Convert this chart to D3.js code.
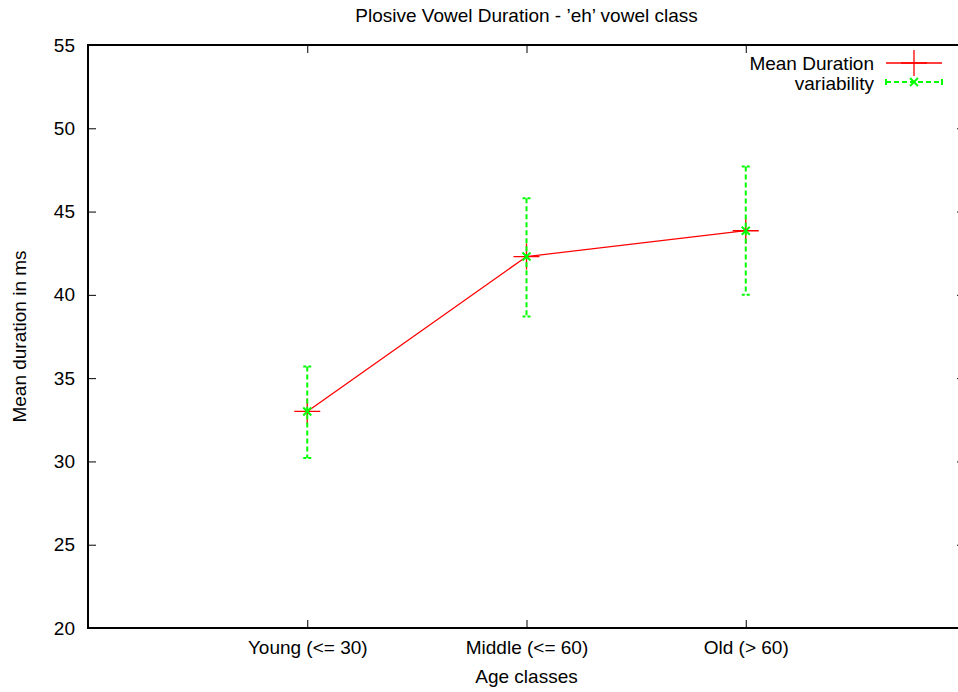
<!DOCTYPE html>
<html>
<head>
<meta charset="utf-8">
<script src="https://cdn.jsdelivr.net/npm/d3@7"></script>
<style>
  html, body { margin: 0; padding: 0; background: #fff; }
  svg { display: block; }
  text { font-family: "Liberation Sans", Arial, Helvetica, sans-serif; font-size: 19px; fill: #000; }
</style>
</head>
<body>
<svg id="chart" width="958" height="692"></svg>
<script>
// Age classes on the x axis (placed at positions 1..3)
const categories = ["Young (<= 30)", "Middle (<= 60)", "Old (> 60)"];
// Mean vowel duration per class (ms)
const meanDuration = [33.0, 42.3, 43.85];
// Variability range per class (ms)
const varLow  = [30.2, 38.7, 40.0];
const varHigh = [35.7, 45.8, 47.7];
// Y axis ticks
const yTicks = [20, 25, 30, 35, 40, 45, 50, 55];

const svg = d3.select("#chart");
const m = { left: 88, right: 965, top: 45, bottom: 628 };

const x = d3.scaleLinear().domain([0, 4]).range([m.left, m.right]);
const y = d3.scaleLinear().domain([20, 55]).range([m.bottom, m.top]);

const RED = "#ff0000", GREEN = "#00ff00";
const tickLen = 8;

// Title
svg.append("text").attr("x", (m.left + m.right) / 2).attr("y", 22)
  .attr("text-anchor", "middle").text("Plosive Vowel Duration - \u2019eh\u2019 vowel class");

// Axes: left/bottom with inward ticks, mirrored on top/right
const yLeft = d3.axisLeft(y).tickValues(yTicks).tickSize(-tickLen).tickPadding(13).tickFormat(d3.format("d"));
const yRight = d3.axisRight(y).tickValues(yTicks).tickSize(-tickLen).tickFormat("");
const xBottom = d3.axisBottom(x).tickValues([1, 2, 3]).tickSize(-tickLen).tickPadding(12.5)
  .tickFormat((d) => categories[d - 1]);
const xTop = d3.axisTop(x).tickValues([1, 2, 3]).tickSize(-tickLen).tickFormat("");

function style(g) {
  g.select(".domain").remove();
  g.selectAll(".tick line").attr("stroke", "#000").attr("stroke-width", 1);
  g.selectAll(".tick text").attr("font-size", 19).attr("font-family", null).attr("fill", "#000");
}
svg.append("g").attr("transform", `translate(${m.left},0)`).call(yLeft).call(style);
svg.append("g").attr("transform", `translate(${m.right},0)`).call(yRight).call(style);
svg.append("g").attr("transform", `translate(0,${m.bottom})`).call(xBottom).call(style);
svg.append("g").attr("transform", `translate(0,${m.top})`).call(xTop).call(style);

// Plot frame
svg.append("rect").attr("x", m.left).attr("y", m.top)
  .attr("width", m.right - m.left).attr("height", m.bottom - m.top)
  .attr("fill", "none").attr("stroke", "#000").attr("stroke-width", 2);

// Axis labels
svg.append("text").attr("x", (m.left + m.right) / 2).attr("y", 683)
  .attr("text-anchor", "middle").text("Age classes");
svg.append("text").attr("transform", `translate(26,${(m.top + m.bottom) / 2}) rotate(-90)`)
  .attr("text-anchor", "middle").text("Mean duration in ms");

// Mean duration: red line with plus markers
const pts = meanDuration.map((v, i) => ({ x: i + 1, v }));
svg.append("path").datum(pts)
  .attr("d", d3.line().x((d) => x(d.x)).y((d) => y(d.v)))
  .attr("fill", "none").attr("stroke", RED).attr("stroke-width", 1.3);

function plus(g, cx, cy, r) {
  g.append("path").attr("d", `M${cx - r},${cy}H${cx + r}M${cx},${cy - r}V${cy + r}`)
    .attr("stroke", RED).attr("stroke-width", 1.3).attr("fill", "none");
}
function cross(g, cx, cy, r) {
  g.append("path").attr("d", `M${cx - r},${cy - r}L${cx + r},${cy + r}M${cx - r},${cy + r}L${cx + r},${cy - r}`)
    .attr("stroke", GREEN).attr("stroke-width", 2).attr("fill", "none");
}
const marks = svg.append("g");
pts.forEach((d) => plus(marks, x(d.x), y(d.v), 13));

// Variability: dashed green error bars with caps and x markers
const dash = "5,3";
const eb = svg.append("g");
categories.forEach((c, i) => {
  const cx = x(i + 1), yl = y(varLow[i]), yh = y(varHigh[i]);
  eb.append("line").attr("x1", cx).attr("x2", cx).attr("y1", yh).attr("y2", yl)
    .attr("stroke", GREEN).attr("stroke-width", 2).attr("stroke-dasharray", dash);
  [yh, yl].forEach((yy) => {
    eb.append("line").attr("x1", cx - 4).attr("x2", cx + 4).attr("y1", yy).attr("y2", yy)
      .attr("stroke", GREEN).attr("stroke-width", 2).attr("stroke-dasharray", "3,2");
  });
  cross(eb, cx, y(meanDuration[i]), 4);
});

// Legend
const lg = svg.append("g");
lg.append("text").attr("x", 874).attr("y", 70).attr("text-anchor", "end").text("Mean Duration");
lg.append("line").attr("x1", 886).attr("x2", 942).attr("y1", 63).attr("y2", 63)
  .attr("stroke", RED).attr("stroke-width", 1.3);
plus(lg, 914, 63, 13);
lg.append("text").attr("x", 874).attr("y", 90).attr("text-anchor", "end").text("variability");
lg.append("line").attr("x1", 886).attr("x2", 942).attr("y1", 82).attr("y2", 82)
  .attr("stroke", GREEN).attr("stroke-width", 2).attr("stroke-dasharray", dash);
[886, 942].forEach((lx) => {
  lg.append("line").attr("x1", lx).attr("x2", lx).attr("y1", 79).attr("y2", 85)
    .attr("stroke", GREEN).attr("stroke-width", 2);
});
cross(lg, 914, 82, 4);
</script>
</body>
</html>
